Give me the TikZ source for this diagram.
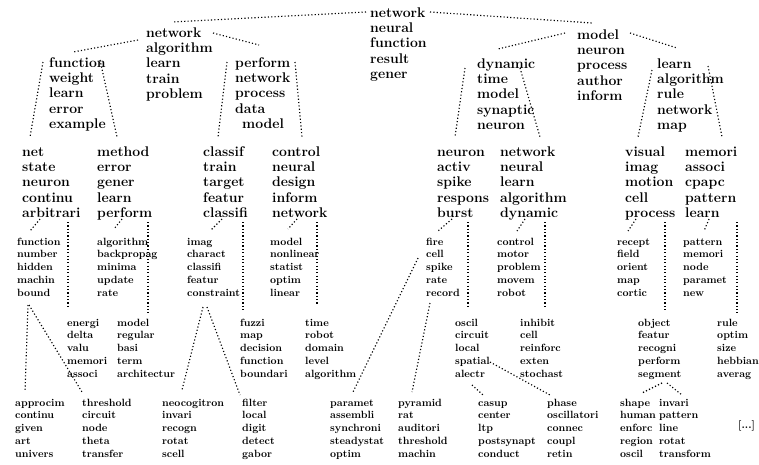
\documentclass[tikz,border=0pt]{standalone}
\usepackage{fontspec}
\usepackage{tikz}
\usetikzlibrary{calc}

\newcommand{\wordlist}[1]{\begin{tabular}[t]{@{}l@{}}#1\end{tabular}}

\begin{document}
\begin{tikzpicture}[x=1pt,y=-1pt,
	big/.style={anchor=base west,inner sep=0pt,font=\fontsize{14}{15.4}\selectfont\bfseries},
	small/.style={anchor=base west,inner sep=0pt,font=\fontsize{10.5}{12.8}\selectfont\bfseries},
	link/.style={line width=1.15pt,dash pattern=on 1.15pt off 2.2pt}]

	\useasboundingbox (0,0) rectangle (759,464);

	% top levels
	\node[big] (root) at (370,17) {\wordlist{network\\neural\\function\\result\\gener}};
	\node[big] (alg) at (146,37) {\wordlist{network\\algorithm\\learn\\train\\problem}};
	\node[big] (mod) at (577,39) {\wordlist{model\\neuron\\process\\author\\inform}};

	\node[big] (fun) at (49,67) {\wordlist{function\\weight\\learn\\error\\example}};
	\node[big] (perf) at (235,67) {\wordlist{perform\\network\\process\\data\\\hspace*{7pt}model}};
	\node[big] (dyn) at (477,68) {\wordlist{dynamic\\time\\model\\synaptic\\neuron}};
	\node[big] (lrn) at (657,68) {\wordlist{learn\\algorithm\\rule\\network\\map}};

	\node[big] (net) at (22,156) {\wordlist{net\\state\\neuron\\continu\\arbitrari}};
	\node[big] (meth) at (97,156) {\wordlist{method\\error\\gener\\learn\\perform}};
	\node[big] (clsf) at (203,156) {\wordlist{classif\\train\\target\\featur\\classifi}};
	\node[big] (ctrl) at (272,156) {\wordlist{control\\neural\\design\\inform\\network}};
	\node[big] (neur) at (437,156) {\wordlist{neuron\\activ\\spike\\respons\\burst}};
	\node[big] (netw) at (500,156) {\wordlist{network\\neural\\learn\\algorithm\\dynamic}};
	\node[big] (visu) at (625,156) {\wordlist{visual\\imag\\motion\\cell\\process}};
	\node[big] (memo) at (685,156) {\wordlist{memori\\associ\\cpapc\\pattern\\learn}};

	% lower levels
	\node[small] (fnc) at (17,245) {\wordlist{function\\number\\hidden\\machin\\bound}};
	\node[small] (algo) at (97,245) {\wordlist{algorithm\\backpropag\\minima\\update\\rate}};
	\node[small] (imag) at (187,245) {\wordlist{imag\\charact\\classifi\\featur\\constraint}};
	\node[small] (modl) at (270,245) {\wordlist{model\\nonlinear\\statist\\optim\\linear}};
	\node[small] (fire) at (426,245) {\wordlist{fire\\cell\\spike\\rate\\record}};
	\node[small] (cntl) at (497,245) {\wordlist{control\\motor\\problem\\movem\\robot}};
	\node[small] (recp) at (617,245) {\wordlist{recept\\field\\orient\\map\\cortic}};
	\node[small] (patt) at (683,245) {\wordlist{pattern\\memori\\node\\paramet\\new}};

	\node[small] (enrg) at (67,326) {\wordlist{energi\\delta\\valu\\memori\\associ}};
	\node[small] (modr) at (117,326) {\wordlist{model\\regular\\basi\\term\\architectur}};
	\node[small] (fuzz) at (240,326) {\wordlist{fuzzi\\map\\decision\\function\\boundari}};
	\node[small] (time) at (305,326) {\wordlist{time\\robot\\domain\\level\\algorithm}};
	\node[small] (osci) at (455,326) {\wordlist{oscil\\circuit\\local\\spatial\\alectr}};
	\node[small] (inhb) at (520,326) {\wordlist{inhibit\\cell\\reinforc\\exten\\stochast}};
	\node[small] (objc) at (638,326) {\wordlist{object\\featur\\recogni\\perform\\segment}};
	\node[small] (rule) at (717,326) {\wordlist{rule\\optim\\size\\hebbian\\averag}};

	\node[small] (appr) at (15,406) {\wordlist{approcim\\continu\\given\\art\\univers}};
	\node[small] (thrs) at (82,406) {\wordlist{threshold\\circuit\\node\\theta\\transfer}};
	\node[small] (neoc) at (162,406) {\wordlist{neocogitron\\invari\\recogn\\rotat\\scell}};
	\node[small] (filt) at (242,406) {\wordlist{filter\\local\\digit\\detect\\gabor}};
	\node[small] (parm) at (330,406) {\wordlist{paramet\\assembli\\synchroni\\steadystat\\optim}};
	\node[small] (pyra) at (398,406) {\wordlist{pyramid\\rat\\auditori\\threshold\\machin}};
	\node[small] (casu) at (478,406) {\wordlist{casup\\center\\ltp\\postsynapt\\conduct}};
	\node[small] (phas) at (547,406) {\wordlist{phase\\oscillatori\\connec\\coupl\\retin}};
	\node[small] (shap) at (620,406) {\wordlist{shape\\human\\enforc\\region\\oscil}};
	\node[small] (inva) at (659,406) {\wordlist{invari\\pattern\\line\\rotat\\transform}};
	\node[small] (more) at (738,428) {[...]};

	% links
	\draw[link] ($(root.base west)+(-4,-5)$) -- ($(alg.base west)+(26,-15)$);
	\draw[link] ($(root.base west)+(60,-5)$) -- ($(mod.base west)+(15,-16)$);
	\draw[link] ($(alg.base west)+(-8,3)$) -- ($(fun.base west)+(24,-15)$);
	\draw[link] ($(alg.base west)+(67,-4)$) -- ($(perf.base west)+(24,-22)$);
	\draw[link] ($(mod.base west)+(-12,-6)$) -- ($(dyn.base west)+(21,-19)$);
	\draw[link] ($(mod.base west)+(53,-6)$) -- ($(lrn.base west)+(20,-20)$);

	\draw[link] ($(fun.base west)+(-6,-5)$) -- ($(net.base west)+(8,-19)$);
	\draw[link] ($(fun.base west)+(51,-7)$) -- ($(meth.base west)+(20,-19)$);
	\draw[link] ($(perf.base west)+(-8,-5)$) -- ($(clsf.base west)+(15,-19)$);
	\draw[link] ($(perf.base west)+(60,-5)$) -- ($(ctrl.base west)+(30,-19)$);
	\draw[link] ($(dyn.base west)+(-12,0)$) -- ($(neur.base west)+(18,-19)$);
	\draw[link] ($(dyn.base west)+(43,0)$) -- ($(netw.base west)+(40,-19)$);
	\draw[link] ($(lrn.base west)+(-5,2)$) -- ($(visu.base west)+(13,-19)$);
	\draw[link] ($(lrn.base west)+(51,-2)$) -- ($(memo.base west)+(37,-19)$);

	\draw[link] ($(net.base west)+(18,63)$) -- ($(fnc.base west)+(13,-14)$);
	\draw[link] ($(net.base west)+(46,66)$) -- ($(enrg.base west)+(1,-18)$);
	\draw[link] ($(meth.base west)+(25,63)$) -- ($(algo.base west)+(17,-16)$);
	\draw[link] ($(meth.base west)+(51,66)$) -- ($(modr.base west)+(31,-13)$);
	\draw[link] ($(clsf.base west)+(19,63)$) -- ($(imag.base west)+(24,-15)$);
	\draw[link] ($(clsf.base west)+(40,66)$) -- ($(fuzz.base west)+(3,-14)$);
	\draw[link] ($(ctrl.base west)+(25,63)$) -- ($(modl.base west)+(18,-16)$);
	\draw[link] ($(ctrl.base west)+(45,66)$) -- ($(time.base west)+(12,-21)$);
	\draw[link] ($(neur.base west)+(15,63)$) -- ($(fire.base west)+(12,-14)$);
	\draw[link] ($(neur.base west)+(31,66)$) -- ($(osci.base west)+(13,-18)$);
	\draw[link] ($(netw.base west)+(25,63)$) -- ($(cntl.base west)+(20,-14)$);
	\draw[link] ($(netw.base west)+(45,66)$) -- ($(inhb.base west)+(25,-18)$);
	\draw[link] ($(visu.base west)+(11,63)$) -- ($(recp.base west)+(11,-14)$);
	\draw[link] ($(visu.base west)+(40,66)$) -- ($(objc.base west)+(27,-16)$);
	\draw[link] ($(memo.base west)+(24,63)$) -- ($(patt.base west)+(21,-14)$);
	\draw[link] ($(memo.base west)+(52,66)$) -- ($(rule.base west)+(20,-13)$);

	\draw[link] ($(fnc.base west)+(11,60)$) -- ($(appr.base west)+(10,-14)$);
	\draw[link] ($(fnc.base west)+(12,60)$) -- ($(thrs.base west)+(0,-14)$);
	\draw[link] ($(imag.base west)+(16,62)$) -- ($(neoc.base west)+(20,-16)$);
	\draw[link] ($(imag.base west)+(20,62)$) -- ($(filt.base west)+(-2,-11)$);
	\draw[link] ($(fire.base west)+(-8,13)$) -- ($(parm.base west)+(23,-14)$);
	\draw[link] ($(fire.base west)+(4,58)$) -- ($(pyra.base west)+(14,-14)$);
	\draw[link] ($(osci.base west)+(17,59)$) -- ($(casu.base west)+(5,-11)$);
	\draw[link] ($(osci.base west)+(35,36)$) -- ($(phas.base west)+(3,-11)$);
	\draw[link] ($(objc.base west)+(24,57)$) -- ($(shap.base west)+(22,-13)$);
	\draw[link] ($(objc.base west)+(29,57)$) -- ($(inva.base west)+(23,-11)$);

\end{tikzpicture}
\end{document}
